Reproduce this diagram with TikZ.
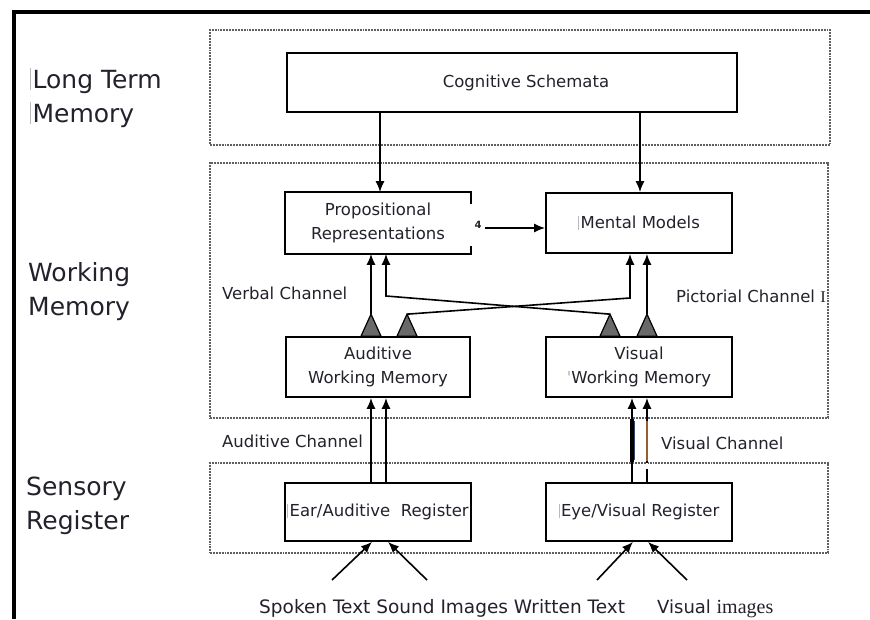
\documentclass[tikz,border=0pt]{standalone}
\usepackage{fontspec}
\setmainfont{DejaVu Sans}
\newfontfamily\serifface{Liberation Serif}
\usetikzlibrary{arrows.meta,calc}
\definecolor{ink}{RGB}{34,34,44}
\definecolor{zonegray}{RGB}{95,95,95}
\definecolor{valvegray}{RGB}{105,105,105}
\definecolor{wirebrown}{RGB}{150,95,45}
\definecolor{wireblue}{RGB}{40,70,150}
% thin grey text-cursor bar that precedes some labels
\newcommand\caretbar{{\color{gray!55}\vrule width 0.9pt height 0.8em depth 0.08em}\hspace{1.5pt}}

\begin{document}
\begin{tikzpicture}[x=1pt,y=-1pt,
  box/.style={draw=black, line width=1.7pt, minimum height=60pt, inner sep=2pt,
    align=center, font=\fontsize{16.5}{24}\selectfont, text=ink},
  zone/.style={draw=zonegray, densely dotted, line width=1.9pt, inner sep=0pt},
  layer/.style={anchor=west, align=left, font=\fontsize{25}{34}\selectfont, text=ink, inner sep=0pt},
  chan/.style={anchor=west, font=\fontsize{16.5}{20}\selectfont, text=ink, inner sep=0pt},
  link/.style={line width=1.6pt, draw=black, -{Latex[length=11pt,width=9pt]}},
  valve/.style={fill=valvegray, draw=black, line width=1.2pt},
  gate/.pic={\filldraw[valve] (-10,0) -- (0,-22) -- (10,0) -- cycle;}
]
% canvas
\fill[white] (0,0) rectangle (870,619);
\useasboundingbox (0,0) rectangle (870,619);
\draw[line width=4.5pt] (14,619) -- (14,12) -- (870,12);

% memory stores
\node[zone, minimum width=620pt, minimum height=115pt] (ltm) at (520,87.5) {};
\node[zone, minimum width=618pt, minimum height=255pt] (wm) at (519,290.5) {};
\node[zone, minimum width=618pt, minimum height=90pt] (sr) at (519,508) {};

\node[layer] (ltmlabel) at (30,98) {\caretbar Long Term\\\caretbar Memory};
\node[layer] (wmlabel) at (28,292) {Working\\Memory};
\node[layer] (srlabel) at (26,506) {Sensory\\Register};

% boxes
\node[box, minimum width=450pt, minimum height=59pt] (CS) at (512,82.5) {\hspace{28pt}Cognitive Schemata};
\node[box, draw=none, minimum width=184pt] (P) at (378,223) {Propositional\\Representations};
\draw[line width=1.7pt] ($(P.north east)+(0,12)$) -- (P.north east) -- (P.north west)
  -- (P.south west) -- (P.south east) -- ($(P.south east)+(0,-8)$);
\node[box, minimum width=186pt] (M) at (639,223) {\caretbar Mental Models};
\node[box, minimum width=184pt] (AW) at (378,367) {Auditive\\Working Memory};
\node[box, minimum width=186pt] (VW) at (639,367) {Visual\\{\color{gray!60}\textquotesingle}Working Memory};
\node[box, minimum width=184pt, minimum height=58pt] (ER) at (378,512) {\caretbar Ear/Auditive\ \ Register};
\node[box, minimum width=186pt, minimum height=58pt] (EV) at (639,512) {\caretbar Eye/Visual Register};

% long term memory feeds both representations
\coordinate (c1) at ($(P.north |- CS.south)+(2,0)$);
\coordinate (c2) at ($(M.north |- CS.south)+(1,0)$);
\draw[link] (c1) -- (c1 |- P.north);
\draw[link] (c2) -- (c2 |- M.north);

% propositional -> mental models
\node[font=\fontsize{10}{10}\selectfont\bfseries, text=ink, inner sep=0pt] (four) at (478,225) {4};
\draw[link] ($(four.east)+(3,3)$) -- (M.west |- 0,228);

% gates on the working memories
\coordinate (ga1b) at ($(AW.north)+(-7,0)$);
\coordinate (ga2b) at ($(AW.north)+(29,0)$);
\coordinate (gv1b) at ($(VW.north)+(-29,0)$);
\coordinate (gv2b) at ($(VW.north)+(8,0)$);
\pic at (ga1b) {gate};
\pic at (ga2b) {gate};
\pic at (gv1b) {gate};
\pic at (gv2b) {gate};
\coordinate (ga1) at ($(ga1b)+(0,-22)$);
\coordinate (ga2) at ($(ga2b)+(0,-22)$);
\coordinate (gv1) at ($(gv1b)+(0,-22)$);
\coordinate (gv2) at ($(gv2b)+(0,-22)$);
\coordinate (k1) at (386,296);
\coordinate (k2) at (630,298);

\draw[link] (ga1) -- (ga1 |- P.south);
\draw[link] (gv1) -- (k1) -- (k1 |- P.south);
\draw[link] (ga2) -- (k2) -- (k2 |- M.south);
\draw[link] (gv2) -- (gv2 |- M.south);

% channel labels
\node[chan] (verbal) at (222,293) {Verbal Channel};
\node[chan] (pictorial) at (676,296) {Pictorial Channel {\serifface I}};
\node[chan] (auditive) at (222,441) {Auditive Channel};
\node[chan] (visual) at (661,443) {Visual Channel};

% sensory registers -> working memories
\coordinate (e1) at ($(ER.north)+(-7,0)$);
\coordinate (e2) at ($(ER.north)+(8,0)$);
\coordinate (e3) at ($(EV.north)+(-7,0)$);
\coordinate (e4) at ($(EV.north)+(8,0)$);
\draw[link] (e1) -- (e1 |- AW.south);
\draw[link] (e2) -- (e2 |- AW.south);
\draw[link] (e3) -- (e3 |- VW.south);
\draw[link] (e4) -- (e4 |- VW.south);
% tinted strokes of the visual channel between the stores
\draw[line width=3.2pt] (e3 |- wm.south) -- (e3 |- sr.north);
\draw[wireblue, line width=1pt] ($(e3 |- wm.south)+(2.4,2)$) -- ($(e3 |- sr.north)+(2.4,-2)$);
\draw[wirebrown, line width=1.5pt] ($(e4 |- wm.south)+(0,2)$) -- ($(e4 |- sr.north)+(0,-1)$);
\draw[white, line width=2pt] ($(e4 |- sr.north)+(0,1)$) -- ($(e4 |- sr.north)+(0,7)$);

% external stimuli
\coordinate (s1) at (332,580);
\coordinate (s2) at (427,580);
\coordinate (s3) at (597,580);
\coordinate (s4) at (687,580);
\draw[link] (s1) -- ($(ER.south)+(-6,0)$);
\draw[link] (s2) -- ($(ER.south)+(10,0)$);
\draw[link] (s3) -- ($(EV.south)+(-6,0)$);
\draw[link] (s4) -- ($(EV.south)+(9,0)$);

\node[chan, anchor=base west, font=\fontsize{18.5}{20}\selectfont] (inputs) at (259,613) {Spoken Text Sound Images Written Text};
\node[chan, anchor=base west, font=\fontsize{18}{20}\selectfont] (vimages) at (657,613) {Visual {\serifface\fontsize{20}{20}\selectfont images}};
\end{tikzpicture}
\end{document}
